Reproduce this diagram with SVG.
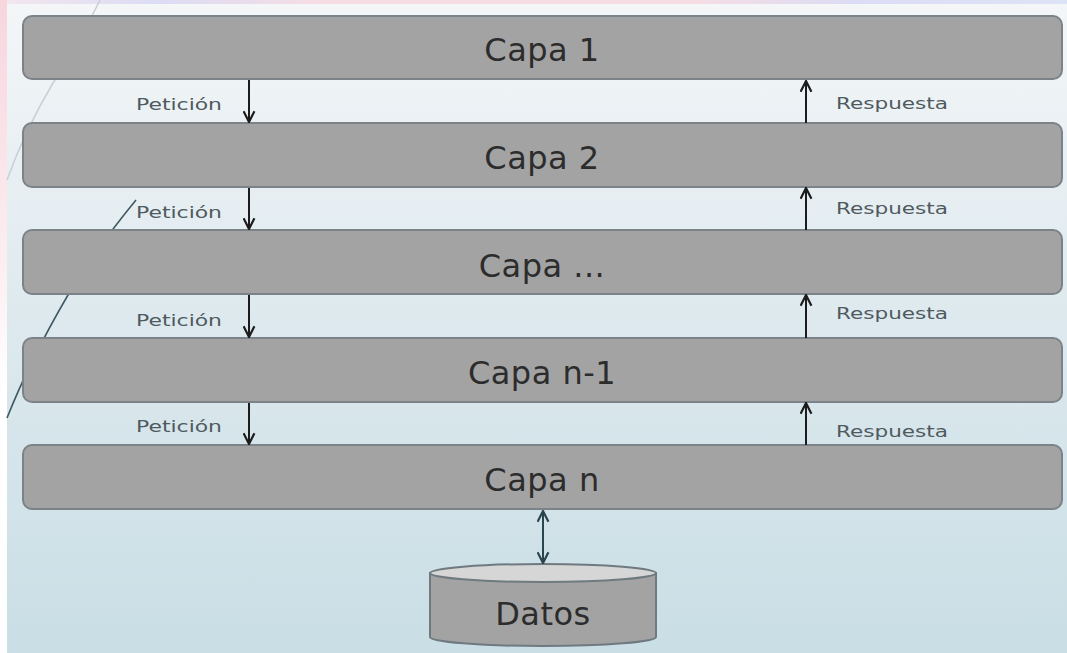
<svg xmlns="http://www.w3.org/2000/svg" width="1067" height="653" viewBox="0 0 1067 653">
<defs>
<linearGradient id="bg" x1="0" y1="0" x2="0" y2="1">
<stop offset="0" stop-color="#f4f6f8"/>
<stop offset="0.5" stop-color="#dde9ee"/>
<stop offset="1" stop-color="#c9dee5"/>
</linearGradient>
<linearGradient id="topband" x1="0" y1="0" x2="1" y2="0">
<stop offset="0" stop-color="#f3e6ee"/>
<stop offset="0.15" stop-color="#dcdcf4"/>
<stop offset="0.3" stop-color="#f6dde4"/>
<stop offset="0.65" stop-color="#f6dde4"/>
<stop offset="0.8" stop-color="#dcdcf4"/>
<stop offset="1" stop-color="#dde3f6"/>
</linearGradient>
<linearGradient id="leftband" x1="0" y1="0" x2="0" y2="1">
<stop offset="0" stop-color="#f7d6de"/>
<stop offset="0.4" stop-color="#fbeef1"/>
<stop offset="0.6" stop-color="#ffffff"/>
<stop offset="1" stop-color="#ffffff"/>
</linearGradient>
<marker id="ah" viewBox="0 0 12 12" refX="11" refY="6" markerWidth="13" markerHeight="13" markerUnits="userSpaceOnUse" orient="auto-start-reverse">
<path d="M1,1 L11,6 L1,11" fill="none" stroke="#1c1c1c" stroke-width="2"/>
</marker>
<marker id="ah2" viewBox="0 0 12 12" refX="11" refY="6" markerWidth="13" markerHeight="13" markerUnits="userSpaceOnUse" orient="auto-start-reverse">
<path d="M1,1 L11,6 L1,11" fill="none" stroke="#2b4550" stroke-width="2"/>
</marker>
<style>
.bar{fill:#a3a3a3;stroke:#7c8388;stroke-width:2}
.cap{font-family:"DejaVu Sans","Liberation Sans",sans-serif;font-size:32px;fill:#2c2c2c;text-anchor:middle;letter-spacing:0.5px}
.lbl{font-family:"DejaVu Sans","Liberation Sans",sans-serif;font-size:16px;fill:#4f5a60}
.arr{stroke:#1c1c1c;stroke-width:2;fill:none}
</style>
</defs>
<rect width="1067" height="653" fill="url(#bg)"/>
<rect x="0" y="0" width="1067" height="4" fill="url(#topband)"/>
<rect x="0" y="0" width="7" height="653" fill="url(#leftband)"/>
<path d="M100,0 Q70,60 53,83 Q25,130 7,180" fill="none" stroke="#c9cfd4" stroke-width="1.5"/>
<path d="M136,200 Q95,250 68,295 Q30,360 7,418" fill="none" stroke="#3f5963" stroke-width="1.6"/>
<g id="capa1"><rect class="bar" x="23" y="16" width="1039" height="63" rx="9"/><text class="cap" x="542" y="61">Capa 1</text></g>
<g id="capa2"><rect class="bar" x="23" y="123" width="1039" height="64" rx="9"/><text class="cap" x="542" y="169">Capa 2</text></g>
<g id="capa3"><rect class="bar" x="23" y="230" width="1039" height="64" rx="9"/><text class="cap" x="542" y="277">Capa ...</text></g>
<g id="capa4"><rect class="bar" x="23" y="338" width="1039" height="64" rx="9"/><text class="cap" x="542" y="384">Capa n-1</text></g>
<g id="capa5"><rect class="bar" x="23" y="445" width="1039" height="64" rx="9"/><text class="cap" x="542" y="491">Capa n</text></g>
<g id="datos">
<path d="M430,573 L430,637 A113,9 0 0 0 656,637 L656,573 Z" fill="#a3a3a3" stroke="#6f7a80" stroke-width="2"/>
<ellipse cx="543" cy="573" rx="113" ry="9" fill="#d6d6d6" stroke="#6f7a80" stroke-width="2"/>
<text class="cap" x="543" y="625">Datos</text>
</g>
<g id="connectors">
<line class="arr" x1="249" y1="80" x2="249" y2="122" marker-end="url(#ah)"/>
<line class="arr" x1="249" y1="188" x2="249" y2="229" marker-end="url(#ah)"/>
<line class="arr" x1="249" y1="295" x2="249" y2="337" marker-end="url(#ah)"/>
<line class="arr" x1="249" y1="403" x2="249" y2="444" marker-end="url(#ah)"/>
<line class="arr" x1="806" y1="123" x2="806" y2="81" marker-end="url(#ah)"/>
<line class="arr" x1="806" y1="230" x2="806" y2="188" marker-end="url(#ah)"/>
<line class="arr" x1="806" y1="338" x2="806" y2="295" marker-end="url(#ah)"/>
<line class="arr" x1="806" y1="445" x2="806" y2="403" marker-end="url(#ah)"/>
<line x1="543" y1="511" x2="543" y2="563" stroke="#2b4550" stroke-width="2" marker-start="url(#ah2)" marker-end="url(#ah2)"/>
<text class="lbl" x="136" y="110" textLength="86" lengthAdjust="spacingAndGlyphs">Petición</text>
<text class="lbl" x="136" y="218" textLength="86" lengthAdjust="spacingAndGlyphs">Petición</text>
<text class="lbl" x="136" y="326" textLength="86" lengthAdjust="spacingAndGlyphs">Petición</text>
<text class="lbl" x="136" y="432" textLength="86" lengthAdjust="spacingAndGlyphs">Petición</text>
<text class="lbl" x="836" y="109" textLength="112" lengthAdjust="spacingAndGlyphs">Respuesta</text>
<text class="lbl" x="836" y="214" textLength="112" lengthAdjust="spacingAndGlyphs">Respuesta</text>
<text class="lbl" x="836" y="319" textLength="112" lengthAdjust="spacingAndGlyphs">Respuesta</text>
<text class="lbl" x="836" y="437" textLength="112" lengthAdjust="spacingAndGlyphs">Respuesta</text>
</g>
</svg>
